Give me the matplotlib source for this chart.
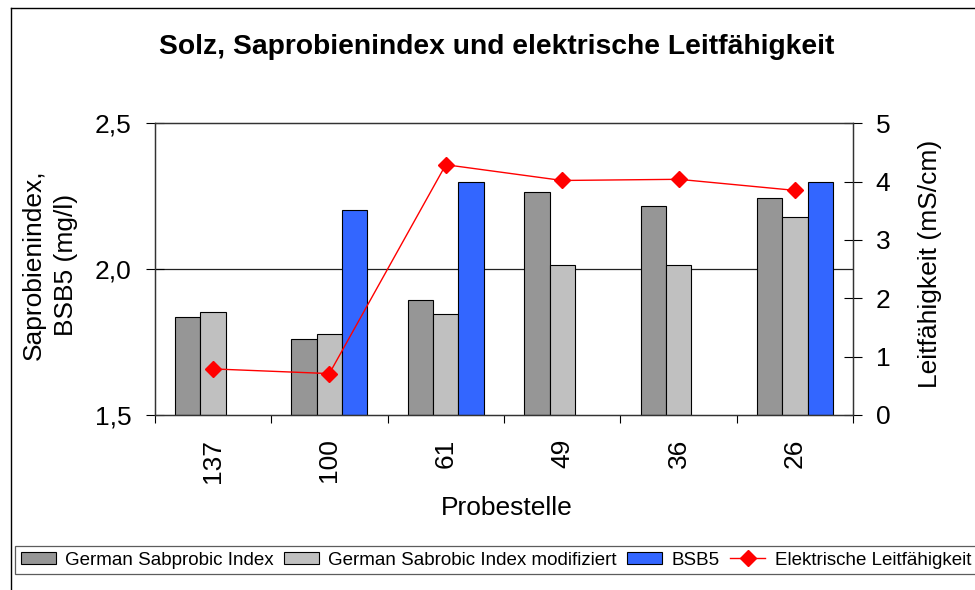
import numpy as np
import matplotlib
matplotlib.use("Agg")
import matplotlib.pyplot as plt
from matplotlib.ticker import FuncFormatter, FixedLocator
from matplotlib.patches import Patch
from matplotlib.lines import Line2D

plt.rcParams['font.family'] = ['Liberation Sans', 'DejaVu Sans']

categories = ["137", "100", "61", "49", "36", "26"]
sapro_index = [1.836, 1.760, 1.893, 2.263, 2.217, 2.245]
sapro_mod = [1.852, 1.776, 1.847, 2.013, 2.013, 2.180]
bsb5 = [np.nan, 2.202, 2.300, np.nan, np.nan, 2.300]
leitf = [0.79, 0.71, 4.29, 4.02, 4.04, 3.85]

title = "Solz, Saprobienindex und elektrische Leitfähigkeit"
labels = ["German Sabprobic Index", "German Sabrobic Index modifiziert",
          "BSB5", "Elektrische Leitfähigkeit"]

c_dark = "#969696"
c_light = "#C0C0C0"
c_blue = "#3366FF"
c_red = "#FF0000"

W, H = 975, 590
fig = plt.figure(figsize=(W / 100, H / 100), dpi=100)
fig.patch.set_facecolor("white")

# axes placement (pixels)
left, right, top, bottom = 154.7, 853.3, 123.3, 415.0
ax = fig.add_axes([left / W, 1 - bottom / H, (right - left) / W, (bottom - top) / H])
ax2 = ax.twinx()

x = np.arange(len(categories))
bw = 0.218
ax.set_ylim(1.5, 2.5)
ax.set_xlim(-0.5, len(categories) - 0.5)

ax.axhline(2.0, color="#222222", lw=0.9, zorder=0.5)

ax.bar(x - bw, np.array(sapro_index) - 1.5, bw, bottom=1.5, color=c_dark,
       edgecolor="black", linewidth=0.8, zorder=2)
ax.bar(x, np.array(sapro_mod) - 1.5, bw, bottom=1.5, color=c_light,
       edgecolor="black", linewidth=0.8, zorder=2)
bsb = np.array(bsb5)
m = ~np.isnan(bsb)
ax.bar(x[m] + bw, bsb[m] - 1.5, bw, bottom=1.5, color=c_blue,
       edgecolor="black", linewidth=0.8, zorder=2)

ax2.set_ylim(0, 5)
ax2.plot(x, leitf, color=c_red, lw=1.0, marker="D", markersize=8,
         markeredgecolor=c_red, markerfacecolor=c_red, zorder=3)

# ticks left
ax.yaxis.set_major_locator(FixedLocator([1.5, 2.0, 2.5]))
ax.yaxis.set_major_formatter(FuncFormatter(lambda v, p: f"{v:.1f}".replace(".", ",")))
ax.tick_params(axis="y", direction="inout", length=13, width=0.8, pad=10,
               labelsize=19, colors="black")
ax2.yaxis.set_major_locator(FixedLocator([0, 1, 2, 3, 4, 5]))
ax2.yaxis.set_major_formatter(FuncFormatter(lambda v, p: f"{int(round(v))}"))
ax2.tick_params(axis="y", direction="inout", length=13, width=0.8, pad=9.5,
                labelsize=19, colors="black")

# x ticks
ax.set_xticks(x)
ax.set_xticklabels(categories, rotation=90, fontsize=19, va="top")
ax.tick_params(axis="x", which="major", length=0, pad=17)
ax.set_xticks(np.arange(-0.5, len(categories)), minor=True)
ax.tick_params(axis="x", which="minor", direction="out", length=6, width=0.8)

for a in (ax, ax2):
    for s in a.spines.values():
        s.set_color("#333333")
        s.set_linewidth(0.9)

# texts
fig.text(497 / W, 1 - 54 / H, title, ha="center", va="baseline",
         fontsize=20.3, fontweight="bold")
fig.text(50 / W, 1 - 265 / H, "Saprobienindex,\nBSB5 (mg/l)", rotation=90,
         ha="center", va="center", multialignment="center", fontsize=19,
         linespacing=1.45)
fig.text(930 / W, 1 - 263.5 / H, "Leitfähigkeit (mS/cm)", rotation=90,
         ha="center", va="center", fontsize=19)
fig.text(507 / W, 1 - 515 / H, "Probestelle", ha="center", va="baseline",
         fontsize=19)

# outer frame
fig.add_artist(Line2D([11 / W, 1.0], [1 - 8 / H, 1 - 8 / H], color="black",
                      lw=1.0, transform=fig.transFigure))
fig.add_artist(Line2D([11 / W, 11 / W], [0.0, 1 - 8 / H], color="black",
                      lw=1.0, transform=fig.transFigure))

handles = [Patch(facecolor=c_dark, edgecolor="black", linewidth=0.8),
           Patch(facecolor=c_light, edgecolor="black", linewidth=0.8),
           Patch(facecolor=c_blue, edgecolor="black", linewidth=0.8),
           Line2D([], [], color=c_red, lw=1.0, marker="D", markersize=8)]
leg = fig.legend(handles, labels, ncol=4, loc="upper left",
                 bbox_to_anchor=(15 / W, 1 - 546 / H), fontsize=13.5,
                 frameon=True, fancybox=False, edgecolor="#333333",
                 handlelength=1.87, handleheight=0.55, handletextpad=0.5,
                 columnspacing=0.55, borderpad=0.3, borderaxespad=0)
leg.get_frame().set_linewidth(0.9)

fig.savefig("out.png", dpi=100, facecolor="white")
